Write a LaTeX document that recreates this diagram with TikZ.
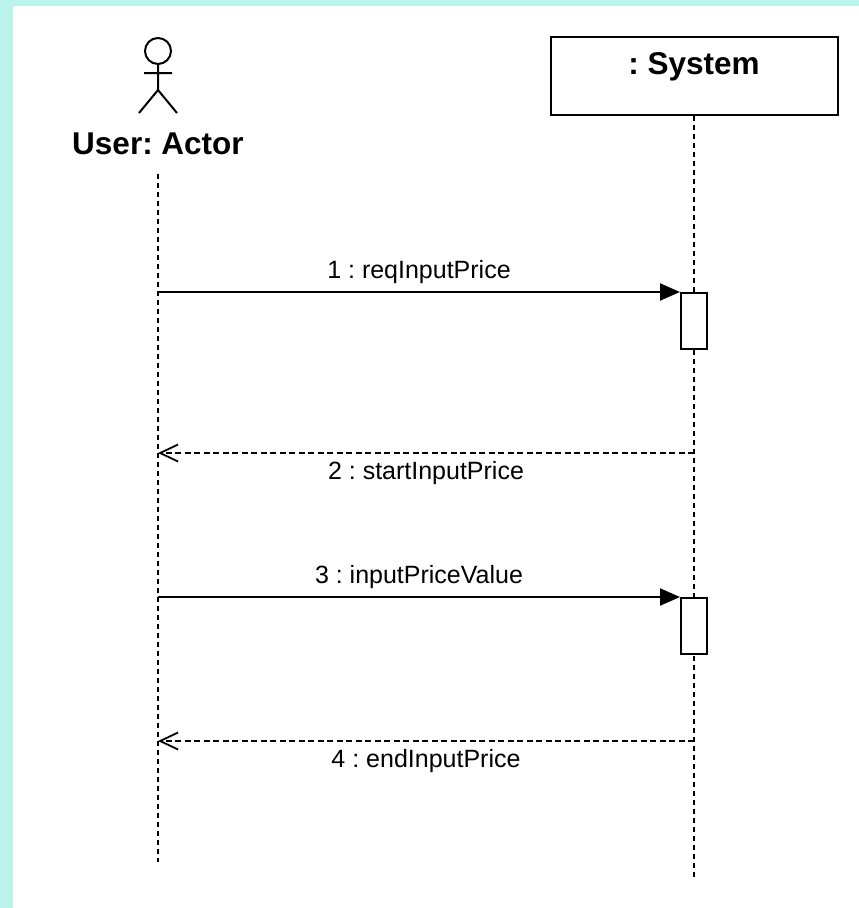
\documentclass[tikz,border=0pt]{standalone}
\usepackage{fontspec}
\setmainfont{Liberation Sans}
\usetikzlibrary{arrows.meta}
\definecolor{bgcyan}{RGB}{186,243,233}
\frenchspacing

\begin{document}
\begin{tikzpicture}[x=1pt,y=-1pt,line width=2pt,
	title/.style={font=\fontsize{31.5}{36}\selectfont\bfseries},
	msg/.style={font=\fontsize{25}{30}\selectfont,anchor=base},
	lifeline/.style={line width=1.8pt,dash pattern=on 5pt off 4pt},
	actbar/.style={draw,fill=white,anchor=north,minimum width=26pt,minimum height=56pt,inner sep=0pt},
	call/.style={-{Triangle[length=20pt,width=17pt]}},
	reply/.style={line width=1.8pt,dash pattern=on 6pt off 3.5pt,
		-{Straight Barb[length=18pt,width=17pt,line width=1.8pt]}}]
	% background and white sheet, they also fix the size of the page
	\fill[bgcyan] (0,0) rectangle (859,908);
	\fill[white] (13,6) rectangle (859,908);

	% the actor: a stick figure with its name below
	\draw (158,51) circle (13);
	\draw (144,73) -- (172,73)
		(158,64) -- (158,90)
		(139,113) -- (158,90) -- (177,113);
	\node[title,anchor=base] (user) at (158,154) {User: Actor};

	% the system object: a box, its name near the top
	\node[draw,anchor=north,minimum width=287pt,minimum height=78pt] (sys) at (694,36) {};
	\node[title,anchor=base] (systitle) at ([yshift=-38pt]sys.north) {: System};

	% lifelines
	\coordinate (userend) at (158,862);
	\coordinate (sysend) at (694,880);
	\draw[lifeline] ([yshift=-15pt]user.south) -- (userend);
	\draw[lifeline] (sys.south) -- (sysend);

	% activation bars on the system lifeline
	\node[actbar] (act1) at (694,292) {};
	\node[actbar] (act2) at (694,597) {};
	\coordinate (ret1) at (694,453);
	\coordinate (ret2) at (694,741);

	% messages
	\draw[call] (userend |- act1.north west) -- (act1.north west)
		node[msg,midway,yshift=13.5pt] {1 : reqInputPrice};
	\draw[reply] (ret1) -- (userend |- ret1)
		node[msg,midway,yshift=-26pt] {2 : startInputPrice};
	\draw[call] (userend |- act2.north west) -- (act2.north west)
		node[msg,midway,yshift=13.5pt] {3 : inputPriceValue};
	\draw[reply] (ret2) -- (userend |- ret2)
		node[msg,midway,yshift=-26pt] {4 : endInputPrice};
\end{tikzpicture}
\end{document}
